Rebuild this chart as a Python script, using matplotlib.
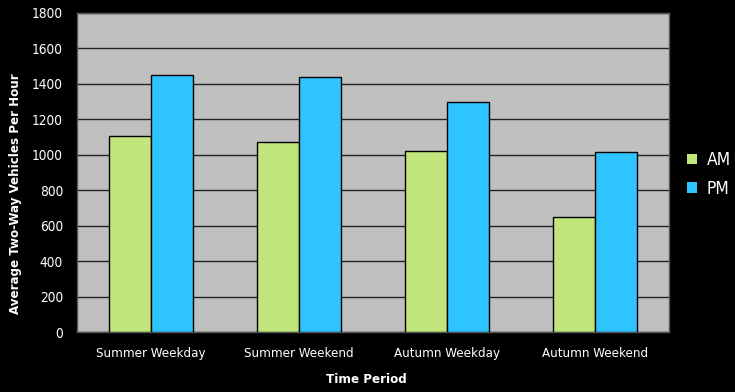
import matplotlib
matplotlib.use("Agg")
import matplotlib.pyplot as plt
import numpy as np
from matplotlib import font_manager

categories = ["Summer Weekday", "Summer Weekend", "Autumn Weekday", "Autumn Weekend"]
am_values = [1105, 1070, 1020, 648]
pm_values = [1450, 1438, 1298, 1015]
series_names = ["AM", "PM"]
y_ticks = [0, 200, 400, 600, 800, 1000, 1200, 1400, 1600, 1800]

# Prefer a narrow sans face for the labels, if one is installed.
narrow_files = [f for f in font_manager.fontManager.ttflist
                if ("Narrow" in f.name or "Condensed" in f.name
                    or "narrow" in f.fname.lower() or "condensed" in f.fname.lower())]
regular = [f for f in narrow_files if f.weight in (400, "normal") and f.style == "normal"]
bold = [f for f in narrow_files if f.weight in (700, "bold") and f.style == "normal"]

def fp(size, heavy=False):
    pool = bold if heavy else regular
    if pool:
        return font_manager.FontProperties(fname=pool[0].fname, size=size)
    return font_manager.FontProperties(family="Liberation Sans", size=size * 0.88,
                                       weight="bold" if heavy else "normal")

fig = plt.figure(figsize=(7.35, 3.92), dpi=100, facecolor="black")
ax = fig.add_axes([0.1048, 0.153, 0.8054, 0.814])
ax.set_facecolor("#C0C0C0")

x = np.arange(len(categories))
w = 1 / 3.5
green = "#C0E67C"
blue = "#2EC4FF"
ax.bar(x - w / 2, am_values, width=w, color=green, edgecolor="black", linewidth=1.0,
       label=series_names[0], zorder=3)
ax.bar(x + w / 2, pm_values, width=w, color=blue, edgecolor="black", linewidth=1.0,
       label=series_names[1], zorder=3)

ax.set_xlim(-0.5, len(categories) - 0.5)
ax.set_ylim(0, 1800)
ax.set_yticks(y_ticks)
ax.yaxis.grid(True, color="#222222", linewidth=1.0, zorder=1)
ax.set_axisbelow(True)
for s in ax.spines.values():
    s.set_color("#555555")
    s.set_linewidth(1.0)

ax.set_xticks(x)
ax.set_xticklabels(categories)
ax.tick_params(axis="both", colors="white", length=0)
ax.tick_params(axis="x", pad=11)
ax.tick_params(axis="y", pad=10)
for lab in ax.get_xticklabels():
    lab.set_fontproperties(fp(9.5))
for lab in ax.get_yticklabels():
    lab.set_fontproperties(fp(9.8))

ax.set_xlabel("Time Period", color="white", fontproperties=fp(9.5, True))
ax.set_ylabel("Average Two-Way Vehicles Per Hour", color="white",
              fontproperties=fp(9.5, True))
ax.xaxis.set_label_coords(0.488, -0.128)
ax.yaxis.set_label_coords(-0.093, 0.433)

leg = fig.legend(loc="center left", bbox_to_anchor=(0.914, 0.555), frameon=False,
                 prop=fp(12.5), labelcolor="white", handlelength=0.55, handleheight=0.55,
                 handletextpad=0.55, labelspacing=0.6)
for h in leg.legend_handles:
    h.set_edgecolor("none")

fig.savefig("out.png", dpi=100, facecolor="black")
